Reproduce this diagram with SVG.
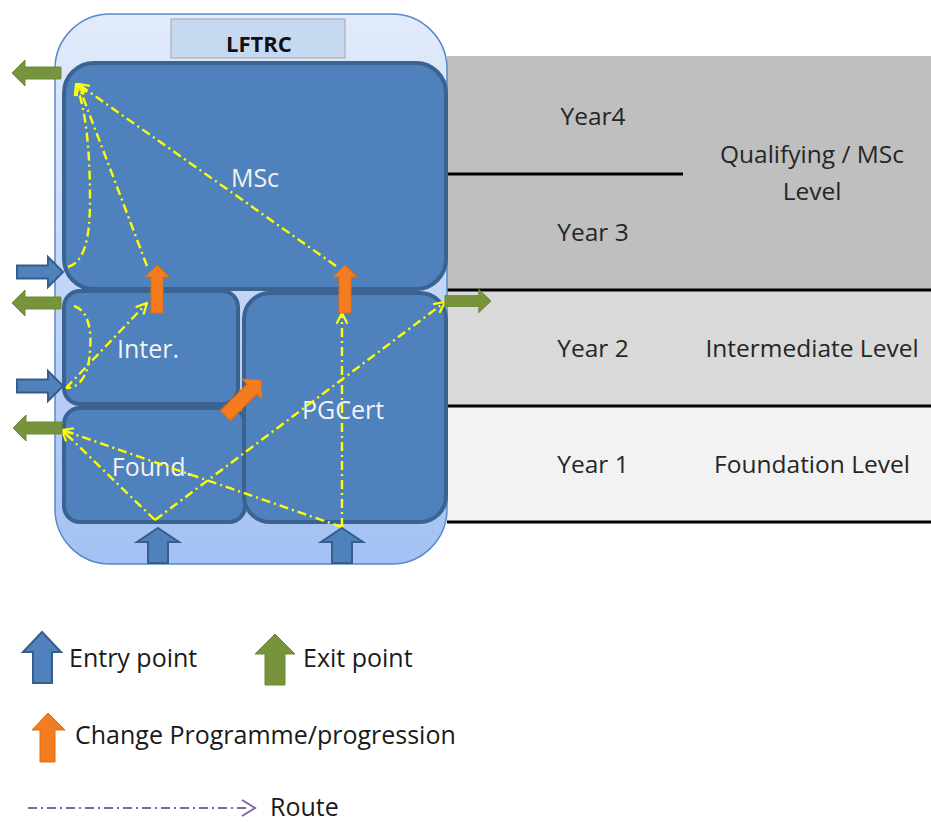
<svg xmlns="http://www.w3.org/2000/svg" xmlns:xlink="http://www.w3.org/1999/xlink" width="931" height="822" viewBox="0 0 931 822">
<style>
.tt{font-family:"Open Sans","Liberation Sans",sans-serif;font-size:24.5px;fill:#262626;text-anchor:middle}
.nl{font-family:"Open Sans","Liberation Sans",sans-serif;font-size:25px;fill:#f2f2f2;text-anchor:middle}
.lg{font-family:"Open Sans","Liberation Sans",sans-serif;font-size:25px;fill:#1a1a1a}
.box{fill:#4f81bd;stroke:#3b6392;stroke-width:4}
.rt{fill:none;stroke:#ffff00;stroke-width:2.4;stroke-dasharray:9 4 2 4}
.tl{stroke:#000;stroke-width:3}
.green{fill:#77933c;stroke:#6b8a35;stroke-width:1}
.blue{fill:#4f81bd;stroke:#385d8a;stroke-width:2}
.orange{fill:#f47c20;stroke:#e46c0a;stroke-width:1}
</style>
<defs>
<linearGradient id="cg" x1="0" y1="0" x2="0" y2="1">
<stop offset="0" stop-color="#e2ebfb"/>
<stop offset="1" stop-color="#a3c1f4"/>
</linearGradient>
<marker id="yh" viewBox="0 0 12 12" refX="11" refY="6" markerWidth="13" markerHeight="13" markerUnits="userSpaceOnUse" orient="auto">
<path d="M1,1 L11,6 L1,11" fill="none" stroke="#ffff00" stroke-width="2"/>
</marker>
<path id="exitL" d="M0,0 L13,-13 L13,-6 L49,-6 L49,6 L13,6 L13,13 Z"/>
<path id="entryR" d="M0,0 L-15,-15 L-15,-6.5 L-46,-6.5 L-46,6.5 L-15,6.5 L-15,15 Z"/>
<path id="entryU" d="M0,0 L21,14 L10,14 L10,35 L-10,35 L-10,14 L-21,14 Z"/>
<path id="chgU" d="M0,0 L12,12 L6,12 L6,48 L-6,48 L-6,12 L-12,12 Z"/>
</defs>

<g id="table">
<rect x="447" y="56" width="484" height="234" fill="#bfbfbf"/>
<rect x="447" y="290" width="484" height="116" fill="#d9d9d9"/>
<rect x="447" y="406" width="484" height="116" fill="#f2f2f2"/>
<line class="tl" x1="447" y1="174" x2="683" y2="174"/>
<line class="tl" x1="447" y1="290" x2="931" y2="290"/>
<line class="tl" x1="447" y1="406" x2="931" y2="406"/>
<line class="tl" x1="447" y1="522" x2="931" y2="522"/>
<text class="tt" x="593" y="125">Year4</text>
<text class="tt" x="593" y="241">Year 3</text>
<text class="tt" x="812" y="163">Qualifying / MSc</text>
<text class="tt" x="812" y="200">Level</text>
<text class="tt" x="593" y="357">Year 2</text>
<text class="tt" x="812" y="357">Intermediate Level</text>
<text class="tt" x="593" y="473">Year 1</text>
<text class="tt" x="812" y="473">Foundation Level</text>
</g>

<g id="lftrc">
<rect x="55" y="14" width="392" height="550" rx="55" ry="55" fill="url(#cg)" stroke="#5b88c6" stroke-width="1.5"/>
<rect x="171" y="19" width="174" height="39" fill="#c6d9f1" stroke="#a6a6a6" stroke-width="1"/>
<text x="259" y="52" text-anchor="middle" font-family="Open Sans, Liberation Sans, sans-serif" font-size="22" font-weight="bold" fill="#111">LFTRC</text>
</g>

<g id="msc">
<rect class="box" x="64" y="63" width="382" height="226" rx="30"/>
<text class="nl" x="255" y="187">MSc</text>
</g>
<g id="inter">
<rect class="box" x="64" y="291" width="174" height="113" rx="16"/>
<text class="nl" x="148" y="358">Inter.</text>
</g>
<g id="found">
<rect class="box" x="64" y="408" width="181" height="114" rx="16"/>
<text class="nl" x="152" y="476">Found.</text>
</g>
<g id="pgcert">
<rect class="box" x="244" y="293" width="202" height="229" rx="26"/>
<text class="nl" x="343" y="419">PGCert</text>
</g>

<g id="connectors">
<path class="rt" d="M147,266 L78,84" marker-end="url(#yh)"/>
<path class="rt" d="M336,266 L78,84" marker-end="url(#yh)"/>
<path class="rt" d="M68,267 C84,262 90,240 90,200 C90,150 86,110 76,84" marker-end="url(#yh)"/>
<path class="rt" d="M66,388 L147,303" marker-end="url(#yh)"/>
<path class="rt" d="M74,306 C88,310 92,330 90,350 C89,375 80,388 66,388"/>
<path class="rt" d="M155,520 L62,430" marker-end="url(#yh)"/>
<path class="rt" d="M155,520 L445,302" marker-end="url(#yh)"/>
<path class="rt" d="M342,527 L62,430" marker-end="url(#yh)"/>
<path class="rt" d="M342,527 L342,313" marker-end="url(#yh)"/>
</g>

<g id="arrows">
<use href="#exitL" class="green" transform="translate(12,73)"/>
<use href="#exitL" class="green" transform="translate(12,303)"/>
<use href="#exitL" class="green" transform="translate(13,428)"/>
<use href="#exitL" class="green" transform="translate(491,301) scale(-0.94,0.9)"/>
<use href="#entryR" class="blue" transform="translate(63,272)"/>
<use href="#entryR" class="blue" transform="translate(63,386)"/>
<use href="#entryU" class="blue" transform="translate(158,528)"/>
<use href="#entryU" class="blue" transform="translate(342,528)"/>
<use href="#chgU" class="orange" transform="translate(157,265)"/>
<use href="#chgU" class="orange" transform="translate(345,265)"/>
<use href="#chgU" class="orange" transform="translate(261,380) rotate(45) scale(1.15,1.05)"/>
</g>

<g id="legend">
<path class="blue" d="M42,632 L61,652 L52,652 L52,683 L33,683 L33,652 L23,652 Z"/>
<text class="lg" x="69" y="667">Entry point</text>
<path class="green" d="M275,634 L295,654 L285,654 L285,685 L265,685 L265,654 L255,654 Z"/>
<text class="lg" x="303" y="667">Exit point</text>
<path class="orange" d="M48,713 L65,730 L55,730 L55,762 L40,762 L40,730 L32,730 Z"/>
<text class="lg" x="75" y="744">Change Programme/progression</text>
<path d="M28,808 L250,808" fill="none" stroke="#8064a2" stroke-width="2" stroke-dasharray="9 4 2 4"/>
<path d="M242,800 L255,808 L242,816" fill="none" stroke="#8064a2" stroke-width="2"/>
<text class="lg" x="270" y="816">Route</text>
</g>
</svg>
